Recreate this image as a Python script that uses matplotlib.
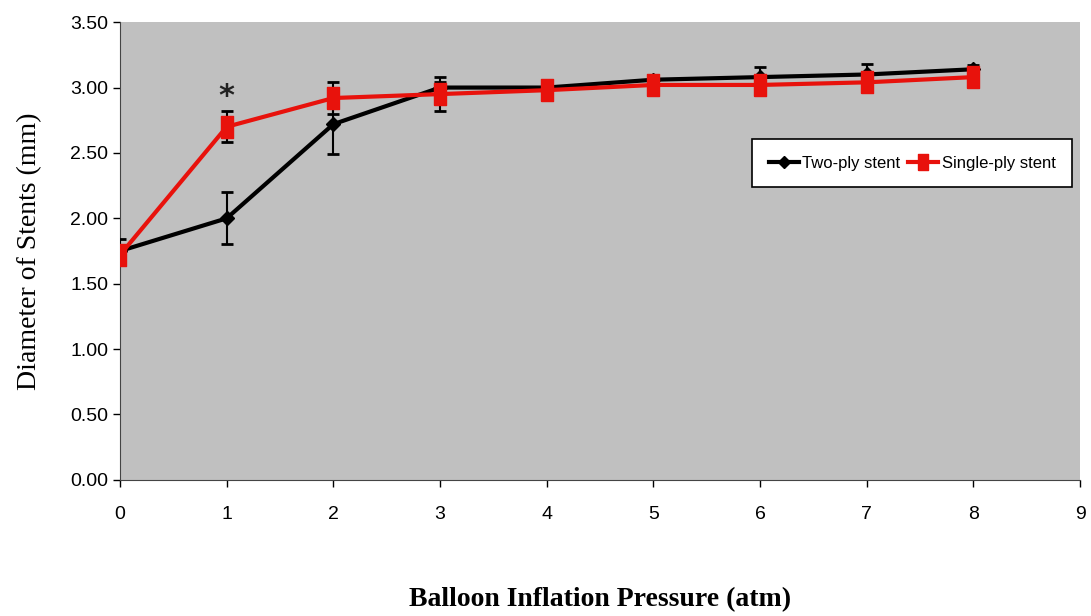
import matplotlib
matplotlib.use('Agg')
import matplotlib.pyplot as plt
from matplotlib.lines import Line2D

# balloon inflation pressure (atm)
pressure = [0, 1, 2, 3, 4, 5, 6, 7, 8]

# mean stent diameters (mm) and error bar half-widths
two_ply = [1.75, 2.00, 2.72, 3.00, 3.00, 3.06, 3.08, 3.10, 3.14]
two_ply_err = [0.09, 0.20, 0.23, 0.04, 0.02, 0.02, 0.08, 0.08, 0.03]
single_ply = [1.72, 2.70, 2.92, 2.95, 2.98, 3.02, 3.02, 3.04, 3.08]
single_ply_err = [0.06, 0.12, 0.12, 0.13, 0.05, 0.05, 0.05, 0.05, 0.05]

y_ticks = [0.0, 0.5, 1.0, 1.5, 2.0, 2.5, 3.0, 3.5]
tick_font = ['Liberation Sans', 'DejaVu Sans']
label_font = ['Liberation Serif', 'DejaVu Serif']

red = '#e8120c'
# tall rectangle used as the single-ply marker
tall_box = [(-0.57, -1), (0.57, -1), (0.57, 1), (-0.57, 1), (-0.57, -1)]

fig = plt.figure(figsize=(10.91, 6.16), dpi=100)
ax = fig.add_axes([0.110, 0.221, 0.880, 0.743])
ax.set_facecolor('#c0c0c0')

ax.errorbar(pressure, two_ply, yerr=two_ply_err, color='black', lw=3,
            marker='D', ms=7, capsize=4, elinewidth=1.5, capthick=2,
            zorder=3)
ax.errorbar(pressure, single_ply, yerr=single_ply_err, color=red, lw=3,
            marker=tall_box, ms=16, capsize=4, elinewidth=1.5, capthick=2,
            ecolor='black', zorder=4)

# significance marker
ax.text(1, 2.93, '*', ha='center', va='center', fontsize=22,
        fontweight='bold', color='#222222')

ax.set_xlim(0, 9)
ax.set_ylim(0, 3.5)
ax.set_xticks(range(10))
ax.set_yticks(y_ticks)
ax.set_yticklabels([f'{v:.2f}' for v in y_ticks], family=tick_font, fontsize=14)
ax.set_xticklabels([str(i) for i in range(10)], family=tick_font, fontsize=14)
ax.tick_params(axis='both', direction='out', length=5, width=1)
ax.tick_params(axis='x', pad=14)

for side in ['top', 'right']:
    ax.spines[side].set_visible(False)
ax.spines['left'].set_color('#444444')
ax.spines['bottom'].set_color('#444444')

ax.set_xlabel('Balloon Inflation Pressure (atm)', family=label_font,
              fontsize=20, fontweight='bold', labelpad=46)
ax.set_ylabel('Diameter of Stents (mm)', family=label_font, fontsize=20,
              labelpad=20)

handles = [
    Line2D([], [], color='black', lw=3, marker='D', ms=6),
    Line2D([], [], color=red, lw=3, marker=tall_box, ms=12),
]
leg = ax.legend(handles, ['Two-ply stent', 'Single-ply stent'],
                loc='center', bbox_to_anchor=(0.825, 0.692), ncol=2,
                prop={'family': tick_font, 'size': 12}, frameon=True,
                fancybox=False, edgecolor='black', framealpha=1,
                handlelength=1.8, columnspacing=0.5, handletextpad=0.2,
                borderpad=1.0)
leg.get_frame().set_linewidth(1.2)

fig.savefig('out.png', dpi=100)
